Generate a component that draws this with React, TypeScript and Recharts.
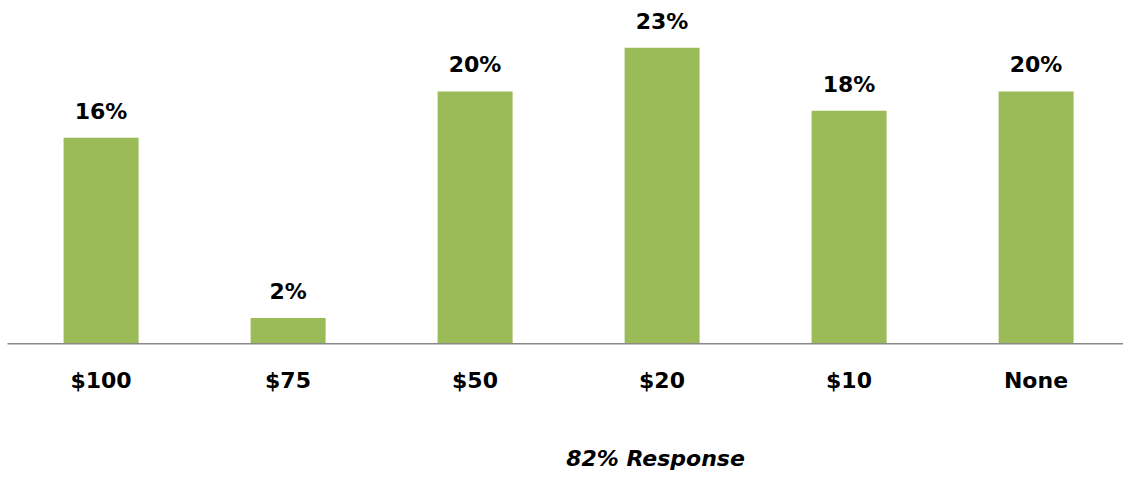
import React from "react";
import { BarChart, Bar, XAxis, YAxis, LabelList } from "recharts";

const categories = ["$100", "$75", "$50", "$20", "$10", "None"];
const shares = [16.0, 2.0, 19.6, 23.0, 18.1, 19.6];
const valueLabels = ["16%", "2%", "20%", "23%", "18%", "20%"];
const footnote = "82% Response";

const data = categories.map((c, i) => ({ name: c, value: shares[i], label: valueLabels[i] }));

const FONT = "'DejaVu Sans', sans-serif";

export default function App() {
  return (
    <div
      style={{
        position: "fixed",
        top: 0,
        left: 0,
        width: 1123,
        height: 478,
        overflow: "hidden",
        background: "#ffffff",
      }}
    >
      <BarChart
        width={1130}
        height={478}
        data={data}
        margin={{ top: 22, right: 0.5, left: 7.5, bottom: 74.3 }}
        barCategoryGap="30%"
      >
        <YAxis hide domain={[0, 25]} />
        <XAxis
          dataKey="name"
          height={60}
          tickLine={false}
          tickSize={0}
          tickMargin={29}
          axisLine={{ stroke: "#898989", strokeWidth: 1.6 }}
          tick={{ fill: "#000000", fontSize: 22, fontWeight: 700, fontFamily: FONT }}
          interval={0}
        />
        <Bar dataKey="value" fill="#9BBB59" isAnimationActive={false}>
          <LabelList
            dataKey="label"
            position="top"
            offset={19}
            style={{ fill: "#000000", fontSize: 22, fontWeight: 700, fontFamily: FONT }}
          />
        </Bar>
      </BarChart>
      <div
        style={{
          position: "absolute",
          left: 0,
          width: 1311,
          top: 446,
          textAlign: "center",
          fontFamily: FONT,
          fontSize: 22,
          fontWeight: 700,
          fontStyle: "italic",
          color: "#000000",
          lineHeight: "26px",
        }}
      >
        {footnote}
      </div>
    </div>
  );
}
